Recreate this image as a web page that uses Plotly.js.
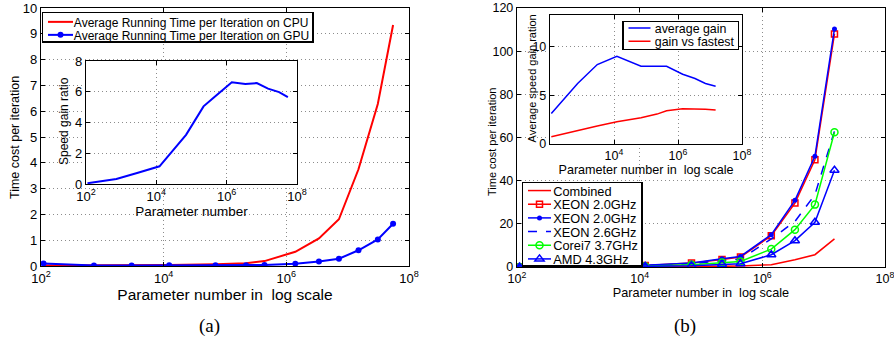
<!DOCTYPE html>
<html><head><meta charset="utf-8">
<script src="https://cdn.plot.ly/plotly-3.0.1.min.js"></script>
<style>html,body{margin:0;padding:0;background:#fff}#chart{width:894px;height:339px}</style>
</head><body><div id="chart"></div>
<script>
// ---- data ----
const paramsA = [110, 730, 3000, 12300, 70000, 220000, 440000, 1.4e6, 3.4e6, 7.2e6, 1.5e7, 3.1e7, 5.5e7];
const cpuTime = [0.02, 0.02, 0.03, 0.04, 0.07, 0.11, 0.19, 0.55, 1.07, 1.81, 3.75, 6.28, 9.34];
const gpuTime = [0.10, 0.02, 0.02, 0.03, 0.03, 0.03, 0.04, 0.09, 0.17, 0.28, 0.61, 1.03, 1.64];
const gainRatio = [0.05, 0.33, 0.73, 1.15, 3.2, 5.05, 5.65, 6.62, 6.5, 6.56, 6.2, 5.98, 5.65];

const paramsB = [110, 730, 3000, 12300, 70000, 220000, 440000, 1.4e6, 3.4e6, 7.2e6, 1.5e7];
const combined = [0.05, 0.05, 0.05, 0.05, 0.15, 0.3, 0.5, 1.1, 3.4, 5.7, 13];
const xeon20a = [0.1, 0.2, 0.4, 0.75, 1.8, 3.5, 4.6, 14.5, 29.6, 49.7, 108];
const xeon20b = [0.1, 0.2, 0.4, 0.8, 1.85, 3.8, 4.9, 15, 30.9, 51.3, 110.3];
const xeon26 = [0.08, 0.15, 0.3, 0.6, 1.5, 3.0, 3.7, 13, 21.1, 33.5, 63];
const corei7 = [0.05, 0.1, 0.2, 0.4, 1.0, 2.1, 2.6, 8.3, 17.3, 28.9, 62.4];
const amd = [0.05, 0.08, 0.15, 0.3, 0.6, 1.2, 1.5, 5.7, 12.2, 20.7, 44.8];
const avgGain = [3.13, 6.19, 8.13, 8.98, 7.96, 7.96, 7.96, 7.14, 6.7, 6.19, 5.92];
const gainFastest = [0.75, 1.33, 1.84, 2.28, 2.69, 3.06, 3.4, 3.6, 3.6, 3.55, 3.47];

const logTickVals = [1e2, 1e4, 1e6, 1e8];
const logTickText = ['10<sup>2</sup>', '10<sup>4</sup>', '10<sup>6</sup>', '10<sup>8</sup>'];

const F = 'Liberation Sans, Arial, sans-serif';
const W = 894, H = 339;
const dx = (a, b) => [a / W, b / W];
const dy = (top, bot) => [1 - bot / H, 1 - top / H];

function ax(extra, fs) {
  return Object.assign({
    showline: true, mirror: 'ticks', linecolor: '#000', linewidth: 1.2,
    ticks: 'inside', ticklen: 4, tickcolor: '#000',
    showgrid: true, gridcolor: '#8c8c8c', griddash: '1px,3px', gridwidth: 1,
    zeroline: false, ticklabeloverflow: 'allow',
    tickfont: {family: F, size: fs, color: '#000'}
  }, extra);
}

const traces = [
  {x: paramsA, y: cpuTime, xaxis: 'x', yaxis: 'y', mode: 'lines', name: 'Average Running Time per Iteration on CPU',
   line: {color: '#ff0000', width: 2}, legend: 'legend'},
  {x: paramsA, y: gpuTime, xaxis: 'x', yaxis: 'y', mode: 'lines+markers', name: 'Average Running Time per Iteration on GPU',
   line: {color: '#0000ff', width: 2}, marker: {color: '#0000ff', size: 6}, legend: 'legend'},
  {x: paramsA, y: gainRatio, xaxis: 'x2', yaxis: 'y2', mode: 'lines', showlegend: false,
   line: {color: '#0000ff', width: 2}},

  {x: paramsB, y: combined, xaxis: 'x3', yaxis: 'y3', mode: 'lines', name: 'Combined',
   line: {color: '#ff0000', width: 1.5}, legend: 'legend2'},
  {x: paramsB, y: xeon20a, xaxis: 'x3', yaxis: 'y3', mode: 'lines+markers', name: 'XEON 2.0GHz',
   line: {color: '#ff0000', width: 1.5}, marker: {symbol: 'square-open', size: 6, color: '#ff0000', line: {width: 1.5}}, legend: 'legend2'},
  {x: paramsB, y: xeon20b, xaxis: 'x3', yaxis: 'y3', mode: 'lines+markers', name: 'XEON 2.0GHz',
   line: {color: '#0000ff', width: 1.5}, marker: {symbol: 'circle', size: 5, color: '#0000ff'}, legend: 'legend2'},
  {x: paramsB, y: xeon26, xaxis: 'x3', yaxis: 'y3', mode: 'lines', name: 'XEON 2.6GHz',
   line: {color: '#0000ff', width: 1.5, dash: 'dash'}, legend: 'legend2'},
  {x: paramsB, y: corei7, xaxis: 'x3', yaxis: 'y3', mode: 'lines+markers', name: 'Corei7 3.7GHz',
   line: {color: '#00ff00', width: 1.5}, marker: {symbol: 'circle-open', size: 7, color: '#00ff00', line: {width: 1.5}}, legend: 'legend2'},
  {x: paramsB, y: amd, xaxis: 'x3', yaxis: 'y3', mode: 'lines+markers', name: 'AMD 4.3GHz',
   line: {color: '#0000ff', width: 1.5}, marker: {symbol: 'triangle-up-open', size: 8, color: '#0000ff', line: {width: 1.5}}, legend: 'legend2'},

  {x: paramsB, y: avgGain, xaxis: 'x4', yaxis: 'y4', mode: 'lines', name: 'average gain',
   line: {color: '#0000ff', width: 1.5}, legend: 'legend3'},
  {x: paramsB, y: gainFastest, xaxis: 'x4', yaxis: 'y4', mode: 'lines', name: 'gain vs fastest',
   line: {color: '#ff0000', width: 1.5}, legend: 'legend3'}
];

const legStyle = (x, y, fs) => ({
  x: x, y: y, xanchor: 'left', yanchor: 'top', xref: 'paper', yref: 'paper',
  bgcolor: '#fff', bordercolor: '#000', borderwidth: 1.5, itemwidth: 30,
  font: {family: F, size: fs, color: '#000'}, tracegroupgap: 0
});

const ytitle = (text, x, y, fs) => ({
  text: text, x: x / W, y: 1 - y / H, xref: 'paper', yref: 'paper', showarrow: false,
  textangle: -90, xanchor: 'center', yanchor: 'middle', font: {family: F, size: fs, color: '#000'}
});
const caption = (text, x, y) => ({
  text: text, x: x / W, y: 1 - y / H, xref: 'paper', yref: 'paper', showarrow: false,
  xanchor: 'center', yanchor: 'middle', font: {family: 'Liberation Serif, Times New Roman, serif', size: 19, color: '#000'}
});

const layout = {
  width: W, height: H, margin: {l: 0, r: 0, t: 0, b: 0},
  paper_bgcolor: '#fff', plot_bgcolor: '#fff', showlegend: true,
  xaxis: ax({type: 'log', range: [2, 8], domain: dx(41, 409), anchor: 'y', tickvals: logTickVals, ticktext: logTickText,
    title: {text: 'Parameter number in  log scale', font: {family: F, size: 15.5, color: '#000'}, standoff: 0}}, 13),
  yaxis: ax({range: [0, 10], dtick: 1, domain: dy(8, 266), anchor: 'x'}, 13),
  xaxis2: ax({type: 'log', range: [2, 8], domain: dx(86, 297), anchor: 'y2', tickvals: logTickVals, ticktext: logTickText,
    title: {text: 'Parameter number', font: {family: F, size: 13.5, color: '#000'}, standoff: 2}}, 13),
  yaxis2: ax({range: [0, 8], dtick: 2, domain: dy(61, 184), anchor: 'x2'}, 13),
  xaxis3: ax({type: 'log', range: [2, 8], domain: dx(517, 885), anchor: 'y3', tickvals: logTickVals, ticktext: logTickText,
    title: {text: 'Parameter number in  log scale', font: {family: F, size: 12.7, color: '#000'}, standoff: 2}}, 12.5),
  yaxis3: ax({range: [0, 120], dtick: 20, domain: dy(8, 267), anchor: 'x3'}, 12.5),
  xaxis4: ax({type: 'log', range: [2, 8], domain: dx(550, 742), anchor: 'y4', tickvals: [1e4, 1e6, 1e8], ticktext: logTickText.slice(1),
    title: {text: 'Parameter number in  log scale', font: {family: F, size: 12.6, color: '#000'}, standoff: 1}}, 12.5),
  yaxis4: ax({range: [0, 13.2], tickvals: [0, 5, 10], domain: dy(15, 144), anchor: 'x4'}, 12.5),
  legend: legStyle(41.5 / W, 1 - 11.5 / H, 12.0),
  legend2: legStyle(521.5 / W, 1 - 181.5 / H, 12.8),
  legend3: legStyle(622 / W, 1 - 20.5 / H, 12.4),
  annotations: [
    ytitle('Time cost per iteration', 15, 138, 12.5),
    ytitle('Speed gain ratio', 63.5, 121.5, 12),
    ytitle('Time cost per iteration', 492, 142, 11),
    ytitle('Average speed gain ration', 531.5, 79, 11),
    caption('(a)', 209, 326),
    caption('(b)', 685, 326)
  ]
};

// MATLAB-style tight legends: compact rows, shorter line samples, snug box
function tighten(cls, o) {
  const g = document.querySelector('g.' + cls);
  if (!g) return;
  const bg = g.querySelector('rect.bg');
  const items = Array.from(g.querySelectorAll('g.traces'));
  if (!bg || !items.length) return;
  const txt = el => el.querySelector('text');
  const pos = items.map(el => {
    const m = /translate\(\s*([-\d.e]+)[ ,]+([-\d.e]+)/.exec(el.getAttribute('transform') || '');
    return m ? [parseFloat(m[1]), parseFloat(m[2])] : [0, 0];
  });
  const place = (off) => items.forEach((el, i) =>
    el.setAttribute('transform', 'translate(' + pos[i][0] + ',' + (pos[0][1] + off + i * o.step) + ')'));
  place(0);
  items.forEach(el => {
    el.querySelectorAll('path.js-line').forEach(p => p.setAttribute('d', 'M5,0h' + o.lineLen));
    el.querySelectorAll('path.scatterpts').forEach(p => p.setAttribute('transform', 'translate(' + (5 + o.lineLen / 2) + ',0)'));
  });
  const bgR = bg.getBoundingClientRect();
  items.forEach(el => {
    const t = txt(el);
    if (!t) return;
    const r = t.getBoundingClientRect();
    t.setAttribute('transform', 'translate(' + ((bgR.left + o.textLeft) - r.left) + ',0)');
  });
  const t0el = txt(items[0]);
  if (t0el) {
    const t0 = t0el.getBoundingClientRect();
    place((bgR.top + o.firstOff) - (t0.top + t0.height / 2));
  }
  let maxR = 0;
  items.forEach(el => {
    const t = txt(el);
    if (t) maxR = Math.max(maxR, t.getBoundingClientRect().right);
  });
  if (maxR > 0) bg.setAttribute('width', maxR + o.rightPad - bgR.left);
  bg.setAttribute('height', o.firstOff + (items.length - 1) * o.step + o.bottomPad);
}

Plotly.newPlot('chart', traces, layout, {displayModeBar: false, staticPlot: true}).then(() => {
  tighten('legend', {step: 13, firstOff: 10.3, bottomPad: 6.3, lineLen: 25, textLeft: 31.6, rightPad: 4});
  tighten('legend2', {step: 13.67, firstOff: 8.8, bottomPad: 6.8, lineLen: 23, textLeft: 31, rightPad: 4});
  tighten('legend3', {step: 13.3, firstOff: 7.5, bottomPad: 7.5, lineLen: 22, textLeft: 32, rightPad: 4});
});
</script></body></html>
